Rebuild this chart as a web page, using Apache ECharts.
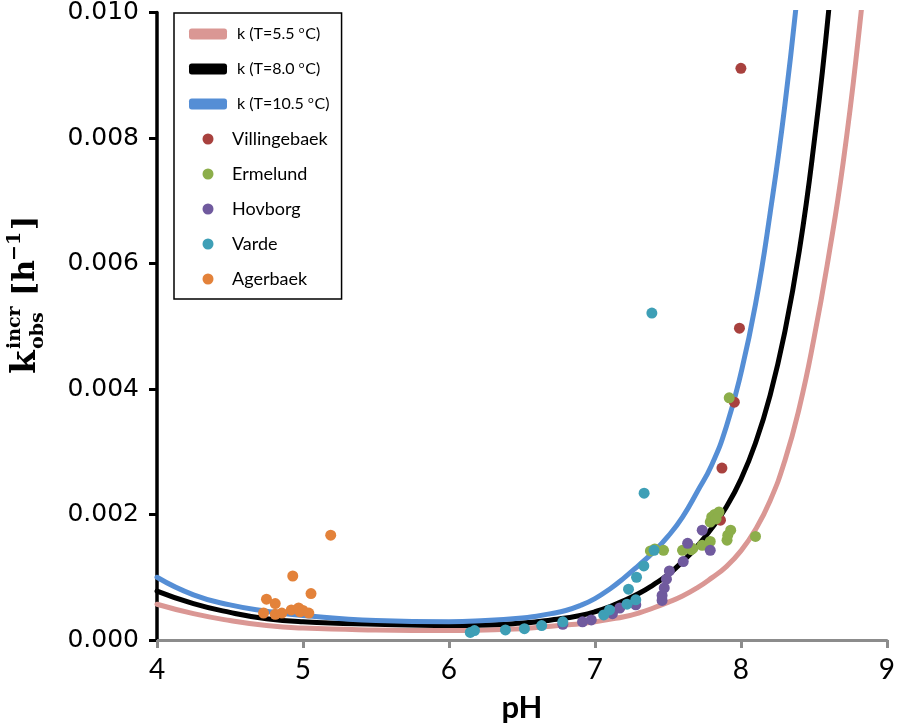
<!DOCTYPE html>
<html>
<head>
<meta charset="utf-8">
<script src="https://cdn.jsdelivr.net/npm/echarts@6/dist/echarts.min.js"></script>
<style>html,body{margin:0;padding:0;background:#fff}#c{width:898px;height:728px}</style>
</head>
<body>
<div id="c"></div>
<script>
// ---- data ----
const xTicks = [4, 5, 6, 7, 8, 9];
const yTicks = [0, 0.002, 0.004, 0.006, 0.008, 0.010];

const curveNames = ['k (T=5.5 oC)', 'k (T=8.0 oC)', 'k (T=10.5 oC)'];
const pink_pH = [4.0, 4.25, 4.5, 4.75, 5.0, 5.5, 6.0, 6.25, 6.5, 6.6, 6.7, 6.8, 6.9, 7.0, 7.1, 7.2, 7.3, 7.4, 7.5, 7.6, 7.7, 7.8, 7.9, 8.0, 8.1, 8.2, 8.3, 8.4, 8.5, 8.6, 8.7, 8.8, 8.9];
const pink_k  = [0.00057, 0.00042, 0.00031, 0.00023, 0.00019, 0.00016, 0.00015, 0.00016, 0.00018, 0.00020, 0.00022, 0.00024, 0.00026, 0.00029, 0.00033, 0.00037, 0.00043, 0.00051, 0.00060, 0.00070, 0.00083, 0.00099, 0.00117, 0.00142, 0.00176, 0.00222, 0.00285, 0.00370, 0.00480, 0.00610, 0.00760, 0.00950, 0.01180];
const black_pH = [4.0, 4.25, 4.5, 4.75, 5.0, 5.5, 6.0, 6.25, 6.5, 6.6, 6.7, 6.8, 6.9, 7.0, 7.1, 7.2, 7.3, 7.4, 7.5, 7.6, 7.7, 7.8, 7.9, 8.0, 8.1, 8.2, 8.3, 8.4, 8.5, 8.6, 8.7];
const black_k  = [0.00078, 0.00058, 0.00044, 0.00034, 0.00029, 0.00025, 0.00023, 0.00024, 0.00027, 0.00029, 0.00032, 0.00035, 0.00039, 0.00045, 0.00053, 0.00063, 0.00074, 0.00088, 0.00104, 0.00125, 0.00149, 0.00178, 0.00212, 0.00256, 0.00314, 0.00390, 0.00490, 0.00620, 0.00790, 0.01000, 0.01270];
const blue_pH = [4.0, 4.25, 4.5, 4.75, 5.0, 5.5, 6.0, 6.25, 6.5, 6.6, 6.7, 6.8, 6.9, 7.0, 7.1, 7.2, 7.3, 7.4, 7.5, 7.6, 7.7, 7.8, 7.9, 8.0, 8.1, 8.2, 8.3, 8.4, 8.5];
const blue_k  = [0.00100, 0.00072, 0.00056, 0.00046, 0.00039, 0.00031, 0.00029, 0.00031, 0.00035, 0.00038, 0.00042, 0.00047, 0.00055, 0.00066, 0.00081, 0.00099, 0.00119, 0.00140, 0.00165, 0.00196, 0.00236, 0.00279, 0.00340, 0.00425, 0.00535, 0.00680, 0.00850, 0.01060, 0.01310];

const villingebaek_pH = [8.00, 7.99, 7.955, 7.87, 7.86];
const villingebaek_k  = [0.00911, 0.00497, 0.00379, 0.00274, 0.00191];

const ermelund_pH = [7.38, 7.41, 7.47, 7.60, 7.66, 7.67, 7.735, 7.79, 7.79, 7.80, 7.82, 7.85, 7.83, 7.905, 7.91, 7.93, 8.10, 7.92];
const ermelund_k  = [0.00142, 0.00145, 0.00143, 0.00143, 0.00144, 0.00146, 0.00151, 0.00157, 0.00188, 0.00196, 0.00200, 0.00204, 0.00193, 0.00159, 0.00167, 0.00175, 0.00165, 0.00386];

const hovborg_pH = [6.78, 6.915, 6.975, 7.12, 7.17, 7.28, 7.46, 7.46, 7.475, 7.49, 7.51, 7.605, 7.635, 7.735, 7.79];
const hovborg_k  = [0.00025, 0.00029, 0.00032, 0.00042, 0.00051, 0.00056, 0.00063, 0.00071, 0.00083, 0.00097, 0.00110, 0.00125, 0.00154, 0.00175, 0.00143];

const varde_pH = [6.146, 6.175, 6.387, 6.517, 6.635, 6.78, 7.06, 7.10, 7.22, 7.23, 7.28, 7.285, 7.335, 7.405, 7.337, 7.39];
const varde_k  = [0.00012, 0.00015, 0.00016, 0.00018, 0.00023, 0.00029, 0.00040, 0.00048, 0.00057, 0.00081, 0.00064, 0.00100, 0.00118, 0.00143, 0.00234, 0.00521];

const agerbaek_pH = [4.73, 4.75, 4.81, 4.81, 4.855, 4.92, 4.93, 4.97, 4.98, 5.00, 5.04, 5.055, 5.19];
const agerbaek_k  = [0.00043, 0.00065, 0.00058, 0.00041, 0.00043, 0.00048, 0.00102, 0.00051, 0.00045, 0.00047, 0.00043, 0.00074, 0.00167];

// ---- build ----
const zip = (a, b) => a.map((v, i) => [v, b[i]]);
const curveColors = ['#DA9794', '#000000', '#558ED5'];
const curves = [[pink_pH, pink_k], [black_pH, black_k], [blue_pH, blue_k]];
const scatterNames = ['Villingebaek', 'Ermelund', 'Hovborg', 'Varde', 'Agerbaek'];
const scatterColors = ['#A8413E', '#8CAE4A', '#705A9E', '#3E9FB6', '#E3823A'];
const scatterData = [[villingebaek_pH, villingebaek_k], [ermelund_pH, ermelund_k], [hovborg_pH, hovborg_k], [varde_pH, varde_k], [agerbaek_pH, agerbaek_k]];

const series = [];
curves.forEach((c, i) => series.push({
  name: curveNames[i], type: 'line', data: zip(c[0], c[1]), smooth: 0.5,
  showSymbol: false, symbol: 'none', clip: true,
  lineStyle: { color: curveColors[i], width: 5, cap: 'round', join: 'round' }, itemStyle: { color: curveColors[i] },
  z: 2
}));
scatterData.forEach((d, i) => series.push({
  name: scatterNames[i], type: 'scatter', data: zip(d[0], d[1]), symbolSize: 11,
  itemStyle: { color: scatterColors[i], opacity: 1 }, z: 3
}));

const chart = echarts.init(document.getElementById('c'), null, { renderer: 'canvas' });
chart.setOption({
  animation: false,
  backgroundColor: '#fff',
  grid: { left: 157, right: 9, top: 12, bottom: 88 },
  xAxis: {
    type: 'value', min: 4, max: 9, interval: 1,
    name: 'pH', nameLocation: 'middle', nameGap: 52,
    nameTextStyle: { fontFamily: 'Lato', fontWeight: 'bold', fontSize: 31, color: '#000' },
    axisLine: { show: true, onZero: false, lineStyle: { color: '#8C8C8C', width: 3 } },
    axisTick: { show: true, length: 8, lineStyle: { color: '#8C8C8C', width: 3 } },
    splitLine: { show: false },
    axisLabel: { fontFamily: 'Lato', fontSize: 28, color: '#000', margin: 16,
      formatter: v => xTicks.includes(v) ? String(v) : '' }
  },
  yAxis: {
    type: 'value', min: 0, max: 0.010, interval: 0.002,
    axisLine: { show: true, onZero: false, lineStyle: { color: '#000', width: 3.5 } },
    axisTick: { show: true, length: 8, lineStyle: { color: '#000', width: 3 } },
    splitLine: { show: false },
    axisLabel: { fontFamily: 'DejaVu Sans', fontSize: 25, color: '#000', margin: 18,
      formatter: v => yTicks.some(t => Math.abs(t - v) < 1e-9) ? v.toFixed(3) : '' }
  },
  legend: {
    orient: 'vertical', left: 174, top: 13,
    borderColor: '#000', borderWidth: 1.5, padding: [11, 12, 10, 15],
    itemWidth: 38, itemHeight: 11, itemGap: 15,
    data: curveNames.map(n => ({ name: n, icon: 'roundRect' })).concat(scatterNames.map(n => ({ name: n, icon: 'circle' }))),
    textStyle: { fontFamily: 'Lato', fontSize: 18, color: '#000', lineHeight: 20,
      rich: {
        p: { fontFamily: 'Lato', fontSize: 16, color: '#000', lineHeight: 20, padding: [0, 0, 0, 5] },
        s: { fontFamily: 'Lato', fontSize: 16, color: '#000', lineHeight: 20 },
        o: { fontFamily: 'Lato', fontSize: 10, color: '#000', lineHeight: 20, padding: [0, 1, 8, 0] }
      } },
    formatter: name => {
      if (name.startsWith('k (')) {
        const base = name.replace(' oC)', '');
        return '{p|' + base + ' }{o|o}{s|C)}';
      }
      return name;
    }
  },
  graphic: [{
    type: 'group', x: 26, y: 283, rotation: Math.PI / 2,
    children: [
      { type: 'text', x: -91, y: 0, style: { text: 'k', font: 'bold 34px "DejaVu Serif"', fill: '#000', verticalAlign: 'middle' } },
      { type: 'text', x: -66, y: -11, style: { text: 'incr', font: 'bold 19px "DejaVu Serif"', fill: '#000', verticalAlign: 'middle' } },
      { type: 'text', x: -66, y: 12, style: { text: 'obs', font: 'bold 19px "DejaVu Serif"', fill: '#000', verticalAlign: 'middle' } },
      { type: 'text', x: -13, y: 0, style: { text: '[h', font: 'bold 30px "DejaVu Serif"', fill: '#000', verticalAlign: 'middle' } },
      { type: 'text', x: 22, y: -11, style: { text: '\u22121', font: 'bold 19px "DejaVu Serif"', fill: '#000', verticalAlign: 'middle' } },
      { type: 'text', x: 53, y: 0, style: { text: ']', font: 'bold 30px "DejaVu Serif"', fill: '#000', verticalAlign: 'middle' } }
    ]
  }],
  series: series
});
</script>
</body>
</html>
